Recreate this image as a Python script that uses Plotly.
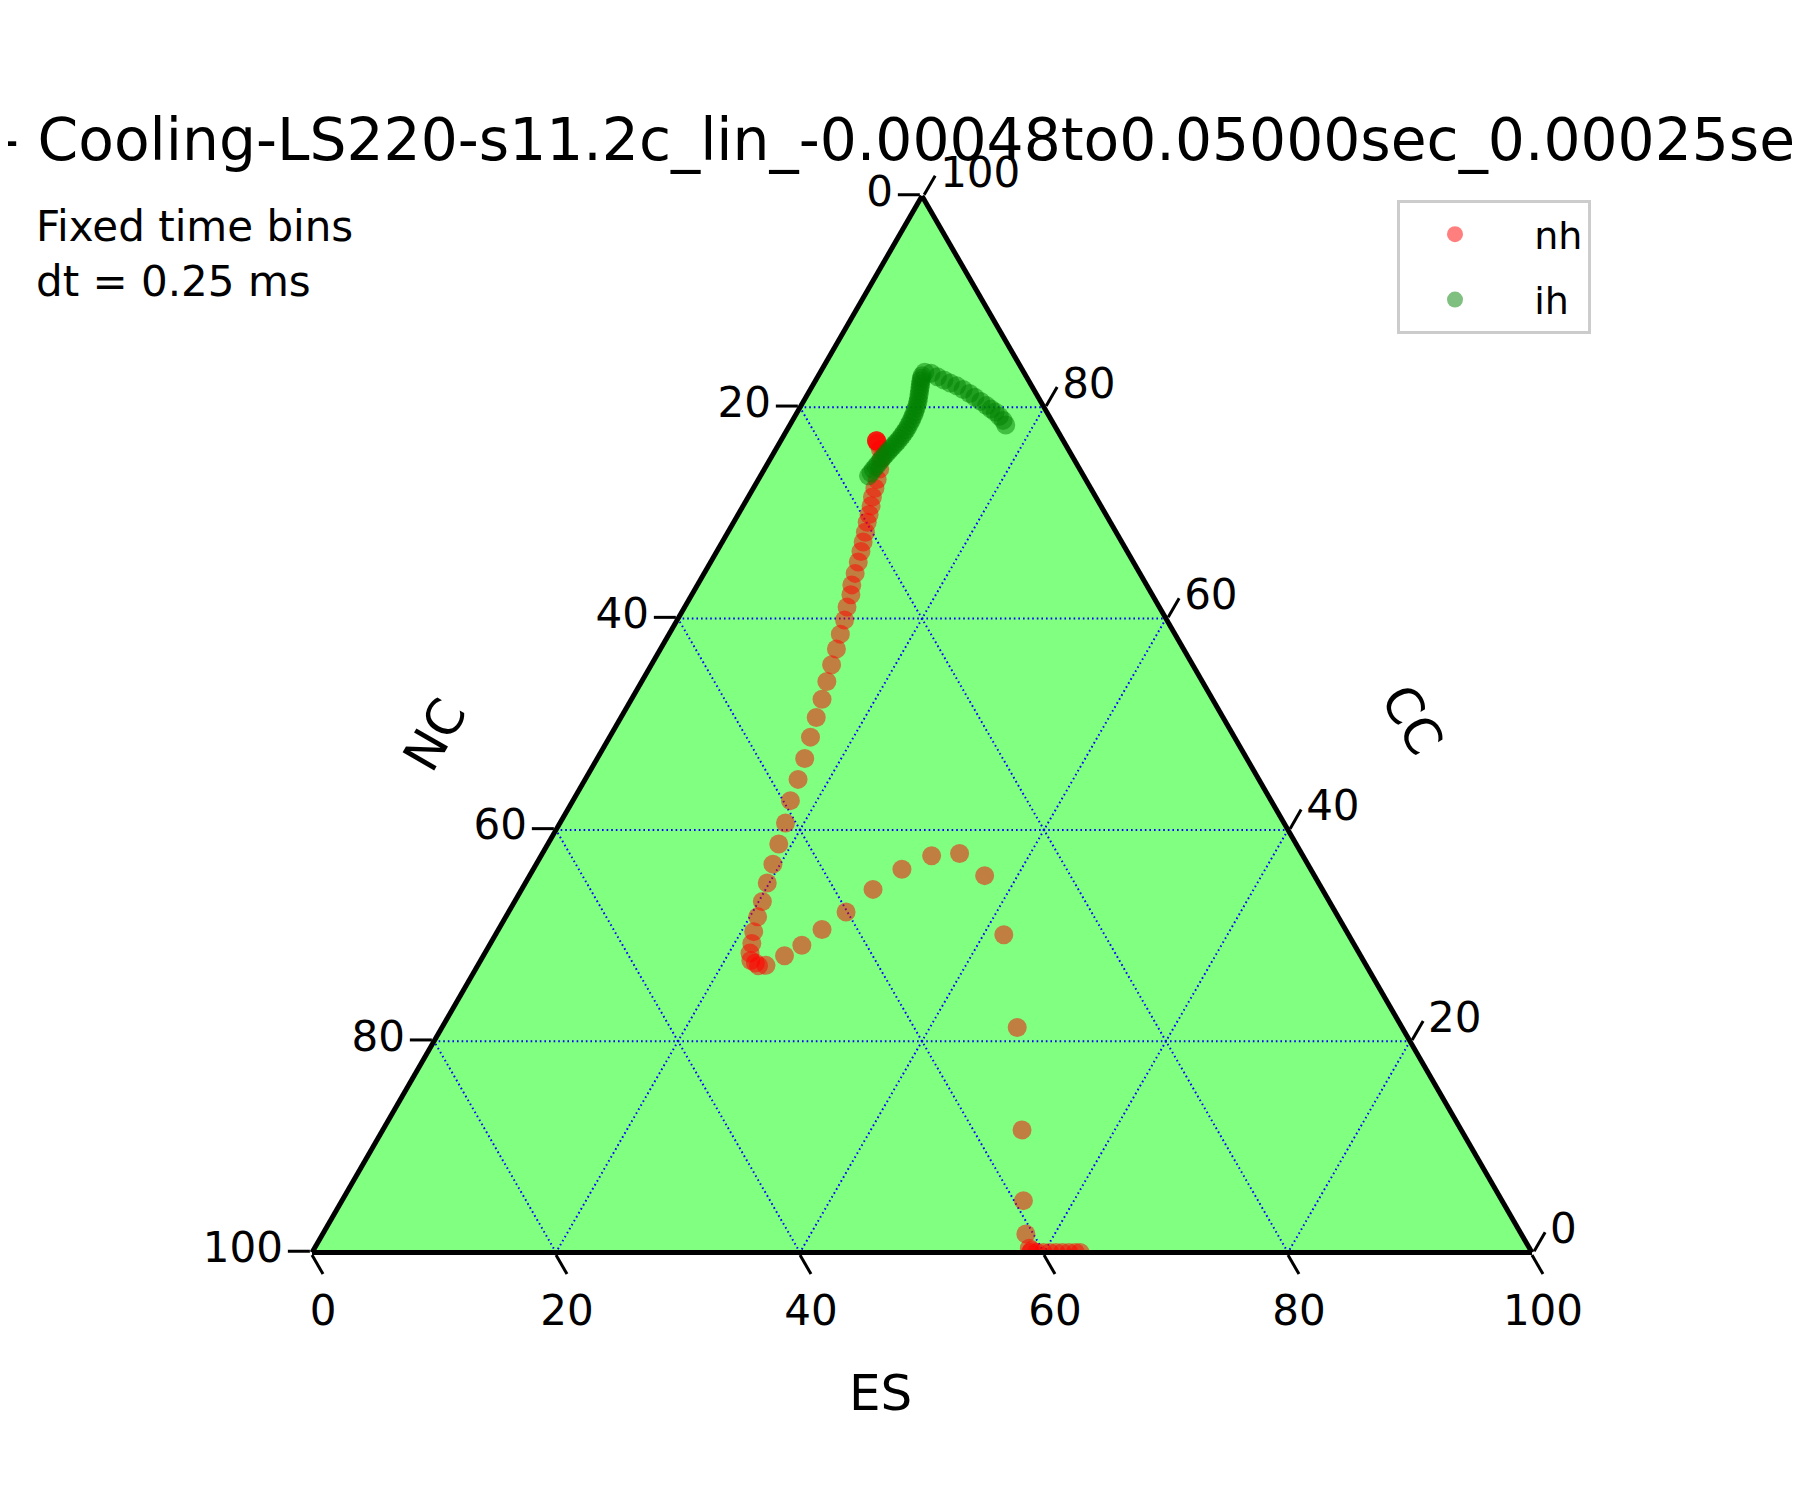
import plotly.graph_objects as go

# ---------------- data (percent) ----------------
# nh series: ES (bottom axis), CC (right axis), NC (left axis)
nh_es = [58.6, 58.9, 58.89, 59.42, 59.94, 60.47, 60.99, 61.51, 62.04, 62.57, 62.96,
         57.64, 55.86, 52.40, 47.16, 41.67, 37.30, 34.20, 32.01, 30.22, 28.80,
         27.66, 26.52, 25.61, 24.69, 23.62, 23.03, 22.64, 22.15, 21.73, 21.43,
         21.02, 20.64, 20.30, 19.83, 19.40, 18.93, 18.48, 17.83, 17.45, 17.01,
         16.47, 16.01, 15.62, 15.18, 14.77, 14.42, 14.04, 13.72, 13.31, 13.04,
         12.65, 12.38, 12.10, 11.82, 11.55, 11.27, 10.95, 10.74, 10.49, 10.18,
         9.97, 9.74, 9.45, 9.10, 8.57, 8.04, 7.85, 7.85, 7.85]
nh_cc = [0.4, 0.2, 0.0, 0.0, 0.0, 0.0, 0.0, 0.0, 0.0, 0.0, 0.0,
         1.75, 4.91, 11.60, 21.29, 30.07, 35.67, 37.76, 37.56, 36.27, 34.37,
         32.23, 30.57, 29.08, 28.08, 27.18, 27.14, 27.41, 27.64, 28.34, 29.24,
         30.37, 31.77, 33.23, 34.97, 36.76, 38.66, 40.66, 42.77, 44.78, 46.75,
         48.78, 50.64, 52.37, 54.04, 55.64, 57.13, 58.53, 59.86, 61.09, 62.26,
         63.19, 64.28, 65.35, 66.35, 67.25, 68.18, 69.12, 69.85, 70.67, 71.51,
         72.34, 73.17, 74.17, 75.14, 76.04, 76.63, 76.84, 76.84, 76.84]
nh_nc = [41.0, 40.9, 41.11, 40.58, 40.06, 39.53, 39.01, 38.49, 37.96, 37.43, 37.04,
         40.61, 39.23, 36.00, 31.55, 28.26, 27.03, 28.04, 30.43, 33.51, 36.83,
         40.11, 42.91, 45.31, 47.23, 49.20, 49.83, 49.95, 50.21, 49.93, 49.33,
         48.61, 47.59, 46.47, 45.20, 43.84, 42.41, 40.86, 39.40, 37.77, 36.24,
         34.75, 33.35, 32.01, 30.78, 29.59, 28.45, 27.43, 26.42, 25.60, 24.70,
         24.16, 23.34, 22.55, 21.83, 21.20, 20.55, 19.93, 19.41, 18.84, 18.31,
         17.69, 17.09, 16.38, 15.76, 15.39, 15.33, 15.31, 15.31, 15.31]

# ih series
ih_es = [8.86, 8.91, 8.96, 9.02, 9.07, 9.12, 9.18, 9.25, 9.31, 9.38, 9.46, 9.53,
         9.60, 9.66, 9.71, 9.74, 9.77, 9.76, 9.75, 9.71, 9.68, 9.62, 9.56, 9.48,
         9.39, 9.27, 9.15, 9.02, 8.90, 8.78, 8.66, 8.58, 8.51, 8.56,
         9.13, 9.82, 10.50, 11.17, 11.83, 12.53, 13.25, 13.86, 14.54, 15.21,
         15.74, 16.22, 16.76, 17.27, 17.70]
ih_cc = [73.51, 73.81, 74.11, 74.39, 74.67, 74.95, 75.24, 75.50, 75.77, 76.02, 76.27, 76.52,
         76.77, 77.05, 77.33, 77.61, 77.90, 78.23, 78.57, 78.90, 79.23, 79.56, 79.90, 80.23,
         80.56, 80.89, 81.23, 81.56, 81.89, 82.19, 82.49, 82.74, 82.99, 83.32,
         83.22, 82.89, 82.59, 82.29, 82.03, 81.69, 81.30, 80.96, 80.56, 80.16,
         79.83, 79.56, 79.16, 78.76, 78.33]
ih_nc = [17.63, 17.28, 16.93, 16.59, 16.26, 15.93, 15.58, 15.25, 14.92, 14.60, 14.27, 13.95,
         13.63, 13.29, 12.96, 12.65, 12.33, 12.01, 11.68, 11.39, 11.09, 10.82, 10.54, 10.29,
         10.05, 9.84, 9.62, 9.42, 9.21, 9.03, 8.85, 8.68, 8.50, 8.12,
         7.65, 7.29, 6.91, 6.54, 6.14, 5.78, 5.45, 5.18, 4.90, 4.63,
         4.43, 4.22, 4.08, 3.97, 3.97]

tick_vals = [0, 20, 40, 60, 80, 100]
tick_text = ["100", "80", "60", "40", "20", "0"]

TITLE = "- Cooling-LS220-s11.2c_lin_-0.00048to0.05000sec_0.00025sec"
FONT = "DejaVu Sans"
NBSP = "\u00a0"

fig = go.Figure()
fig.add_trace(go.Scatterternary(
    a=nh_cc, b=nh_nc, c=nh_es, mode="markers", name=NBSP * 2 + "nh", legendgroup="nh",
    marker=dict(color="red", size=19, opacity=0.5, line=dict(width=0)),
))
fig.add_trace(go.Scatterternary(
    a=ih_cc, b=ih_nc, c=ih_es, mode="markers", name=NBSP * 2 + "ih", legendgroup="ih",
    marker=dict(color="green", size=19, opacity=0.5, line=dict(width=0)),
))

axis_style = dict(
    min=0, tickmode="array", tickvals=tick_vals, ticktext=tick_text,
    ticks="outside", ticklen=22, tickwidth=3, tickcolor="black",
    linecolor="black", linewidth=5, showline=True,
    showgrid=True, gridcolor="blue", gridwidth=1.6, griddash="1.6px,3px",
    tickfont=dict(size=42, family=FONT, color="black"),
    title=dict(text=""),
)

fig.update_layout(
    width=1800, height=1500,
    margin=dict(l=0, r=0, t=0, b=0),
    paper_bgcolor="white",
    font=dict(family=FONT, color="black"),
    ternary=dict(
        sum=100,
        bgcolor="#80ff80",
        domain=dict(x=[0.16889, 0.84667], y=[0.17033, 0.87467]),
        aaxis=axis_style, baxis=axis_style, caxis=axis_style,
    ),
    showlegend=True,
    legend=dict(
        x=1389 / 1800, y=0.872, xanchor="left", yanchor="top",
        bgcolor="white", bordercolor="#cccccc", borderwidth=3,
        font=dict(size=38, family=FONT, color="black"),
        itemwidth=100, tracegroupgap=13,
    ),
    annotations=[
        dict(text=TITLE, xref="paper", yref="paper",
             x=-12 / 1800, y=1 - 132 / 1500, xanchor="left", yanchor="middle",
             showarrow=False, font=dict(size=58.3, family=FONT, color="black")),
        dict(text="Fixed time bins<br>dt = 0.25 ms", xref="paper", yref="paper",
             x=0.0144, y=0.872, xanchor="left", yanchor="top", align="left",
             showarrow=False, font=dict(size=42, family=FONT, color="black")),
        dict(text="ES", xref="paper", yref="paper", x=872 / 1800, y=1 - 1385 / 1500,
             xanchor="center", yanchor="middle", showarrow=False,
             font=dict(size=50, family=FONT, color="black")),
        dict(text="NC", xref="paper", yref="paper", x=427 / 1800, y=1 - 727 / 1500,
             xanchor="center", yanchor="middle", showarrow=False, textangle=-60,
             font=dict(size=50, family=FONT, color="black")),
        dict(text="CC", xref="paper", yref="paper", x=1404 / 1800, y=1 - 712 / 1500,
             xanchor="center", yanchor="middle", showarrow=False, textangle=60,
             font=dict(size=50, family=FONT, color="black")),
    ],
)

fig.write_html("out.html")
